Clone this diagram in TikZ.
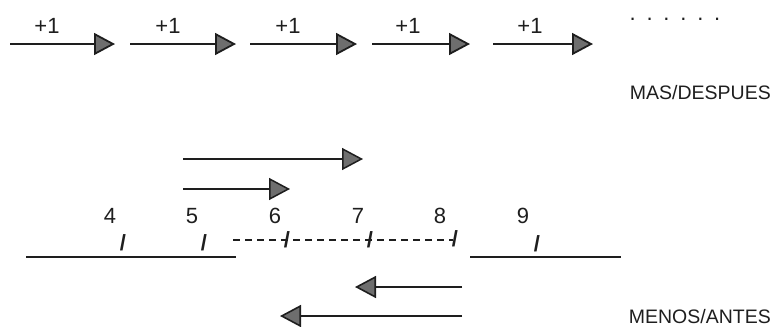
\documentclass[tikz,border=0pt]{standalone}
\usepackage{fontspec}
\setmainfont{Liberation Sans}
\usetikzlibrary{arrows.meta}
\definecolor{ink}{HTML}{1E1E1E}
\definecolor{headfill}{HTML}{6E6E6E}
\tikzset{
  arr/.style={draw=ink, line width=1.8pt, -{Triangle[length=21pt,width=22pt,fill=headfill]}},
  seg/.style={draw=ink, line width=2.4pt},
  dashseg/.style={draw=ink, line width=2pt, dash pattern=on 7pt off 5pt},
  lbl/.style={font=\fontsize{22}{24}\selectfont, inner sep=0pt, text=ink},
  big/.style={font=\fontsize{19.5}{22}\selectfont, inner sep=0pt, text=ink},
  tick/.style={font=\fontsize{22}{24}\selectfont\bfseries, inner sep=0pt, text=ink}
}
\begin{document}
\begin{tikzpicture}[x=1pt,y=-1pt]
\useasboundingbox (0,0) rectangle (772,327);
% top row
\foreach \i/\s/\e in {1/10/115,2/130/236,3/250/357,4/372/470,5/493/593}{
  \coordinate (s\i) at (\s,44);
  \coordinate (e\i) at (\e,44);
  \draw[arr] (s\i) -- (e\i);
}
\foreach \i/\x in {1/47,2/168,3/288,4/408,5/530}{
  \node[lbl] (p\i) at (\x,26) {+1};
}
\node[lbl] (dots) at (675,19) {.\hskip 10.8pt.\hskip 10.8pt.\hskip 10.8pt.\hskip 10.8pt.\hskip 10.8pt.};
\node[big, anchor=east] (mas) at (771,93) {MAS/DESPUES};
% middle arrows
\coordinate (a1) at (183,159); \coordinate (a2) at (363,159);
\coordinate (b1) at (183,189); \coordinate (b2) at (290,189);
\draw[arr, line width=1.5pt] (a1) -- (a2);
\draw[arr, line width=1.5pt] (b1) -- (b2);
% numbers
\foreach \n/\x in {4/110,5/192,6/275,7/358,8/440,9/523}{
  \node[lbl] (n\n) at (\x,216) {\n};
}
% lines
\coordinate (l1) at (26,257); \coordinate (l2) at (236,257);
\coordinate (d1) at (233,240); \coordinate (d2) at (453,240);
\coordinate (m1) at (470,257); \coordinate (m2) at (621,257);
\draw[seg] (l1) -- (l2);
\draw[dashseg] (d1) -- (d2);
\draw[seg] (m1) -- (m2);
% ticks
\node[tick] (t4) at (123,243) {/};
\node[tick] (t5) at (204,243) {/};
\node[tick] (t6) at (287,240) {/};
\node[tick] (t7) at (370,240) {/};
\node[tick] (t8) at (455,239) {/};
\node[tick] (t9) at (537,244) {/};
% bottom arrows
\coordinate (c1) at (462,287); \coordinate (c2) at (355,287);
\coordinate (f1) at (462,316); \coordinate (f2) at (280,316);
\draw[arr, line width=1.6pt] (c1) -- (c2);
\draw[arr, line width=1.6pt] (f1) -- (f2);
\node[big, anchor=east] (menos) at (771,317) {MENOS/ANTES};
\end{tikzpicture}
\end{document}
